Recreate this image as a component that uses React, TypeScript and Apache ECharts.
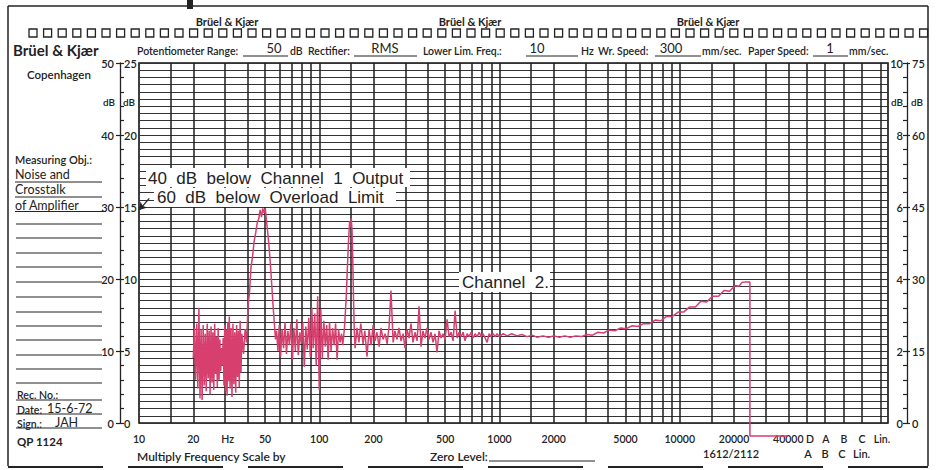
import React, { useEffect, useRef } from "react";
import * as echarts from "echarts";

// ---------- chart-paper data ----------
// vertical paper lines (Hz)
const gridFreqs = [15, 20, 30, 40, 50, 60, 70, 80, 90, 100, 150, 200, 300, 400, 500, 600, 700, 800, 900, 1000, 1500, 2000, 3000, 4000, 5000, 6000, 7000, 8000, 9000, 10000, 15000, 20000, 30000, 40000, 50400, 63900, 80900, 102600, 130000];

// frequency-axis tick labels
const xTickValues = [10, 20, 31, 50, 100, 200, 500, 1000, 2000, 5000, 10000, 20000, 40000, 52800, 64700, 81500, 102500, 132500];
const xTickLabels = ["10", "20", "Hz", "50", "100", "200", "500", "1000", "2000", "5000", "10000", "20000", "40000", "D", "A", "B", "C", "Lin."];

// ---------- Channel 2 trace (dB on the 0–25 dB scale) ----------
const lowNoiseFreq = [20, 20.3, 20.6, 20.9, 21.2, 21.5, 21.8, 22.1, 22.4, 22.7, 23, 23.3, 23.6, 23.9, 24.2, 24.5, 24.8, 25.1, 25.4, 25.7, 26, 26.3, 26.6, 26.9, 27.2, 27.5, 27.8, 28.1, 28.4, 28.7, 29, 29.3, 29.6, 29.9, 30.2, 30.5, 30.8, 31.1, 31.4, 31.7, 32, 32.4, 32.8, 33.2, 33.6, 34, 34.4, 34.8, 35.2, 35.6, 36, 36.4, 36.8, 37.2];
const lowNoiseDb = [4.5, 6.6, 3.0, 6.9, 2.4, 8.0, 1.7, 6.5, 1.6, 6.8, 2.6, 6.2, 2.2, 6.9, 3.1, 6.4, 2.0, 6.7, 2.8, 6.3, 2.3, 6.9, 3.4, 6.0, 2.5, 6.6, 3.0, 5.8, 3.6, 5.2, 4.0, 5.9, 2.6, 6.8, 2.2, 6.5, 1.9, 7.0, 2.9, 7.4, 2.4, 6.6, 1.8, 6.9, 2.7, 6.3, 2.1, 6.8, 3.2, 6.4, 2.5, 7.1, 3.5, 6.2];

const peak50Freq = [38, 38.8, 39.5, 40.3, 41, 41.8, 42.6, 43.5, 44.4, 45.3, 46.2, 47, 47.8, 48.6, 49.4, 50.2, 51, 51.8, 52.7, 53.6, 54.5, 55.4, 56.3, 57.2, 58];
const peak50Db = [4.8, 6.5, 5.6, 8.2, 9.0, 10.8, 11.5, 12.6, 13.2, 13.9, 14.2, 14.8, 14.3, 14.9, 14.6, 14.9, 14.0, 13.2, 12.2, 11.0, 9.6, 8.2, 7.0, 5.8, 6.4];

const humNoiseFreq = [59, 60, 61, 62.2, 63.4, 64.6, 65.8, 67, 68.3, 69.6, 71, 72.3, 73.7, 75.1, 76.5, 78, 79.5, 81, 82.6, 84.2, 85.8, 87.5, 89.2, 90.9, 92.6, 94.4, 96.2, 98, 100, 102, 104, 106, 108, 110, 112, 114, 116.3, 118.6, 120.9, 123.2, 125.6, 128, 130.5, 133];
const humNoiseDb = [5.0, 6.8, 4.6, 6.5, 5.2, 7.0, 4.8, 6.4, 5.4, 6.9, 4.4, 6.6, 5.0, 7.2, 4.7, 6.3, 5.5, 7.0, 3.9, 6.7, 5.1, 7.3, 4.6, 8.0, 5.2, 7.6, 4.0, 8.8, 2.3, 7.9, 4.5, 7.1, 5.3, 6.8, 4.4, 7.0, 5.0, 6.6, 5.4, 6.9, 4.4, 6.5, 5.6, 6.2];

const peak150Freq = [135, 138, 141, 143.5, 145.5, 147.5, 149, 150.5, 152, 153.5, 155, 156.5];
const peak150Db = [5.4, 6.6, 8.6, 11.0, 12.8, 14.0, 13.6, 14.2, 13.4, 11.2, 8.5, 6.4];

const midNoiseFreq = [158, 162, 166, 170, 175, 179, 184, 189, 194, 199, 204, 209, 215, 220, 226, 232, 238, 244, 250, 257, 263, 270, 277, 284, 292, 299, 307, 315, 323, 331, 340, 349, 358, 367, 376, 386, 396, 406, 417, 428, 439, 450, 462, 474, 486, 499, 512, 525, 539, 553, 567, 582, 597, 612, 628, 644, 661, 678, 696, 714, 732, 751, 771, 791, 811, 832, 854, 876, 899, 922, 946, 970, 995];
const midNoiseDb = [5.2, 6.6, 5.6, 6.9, 5.5, 6.4, 4.6, 6.5, 5.4, 6.8, 5.7, 6.3, 5.3, 6.6, 5.8, 6.2, 5.5, 6.7, 9.2, 5.6, 6.4, 5.8, 6.6, 5.7, 6.2, 5.2, 6.5, 5.9, 6.9, 5.6, 6.3, 5.7, 8.1, 5.3, 6.4, 5.9, 6.6, 5.8, 6.3, 5.6, 6.2, 4.9, 6.4, 5.9, 6.2, 5.8, 7.2, 6.0, 6.3, 5.7, 7.8, 5.9, 6.3, 6.0, 6.3, 5.7, 6.2, 6.0, 6.3, 5.9, 6.2, 6.0, 6.3, 6.0, 6.2, 5.9, 5.6, 6.2, 6.0, 6.2, 6.0, 6.2, 6.0];

const riseFreq = [1050, 1100, 1170, 1250, 1330, 1420, 1520, 1620, 1740, 1870, 2000, 2150, 2300, 2470, 2650, 2850, 3050, 3280, 3520, 3780, 4050, 4350, 4700, 5050, 5450, 5850, 6300, 6800, 7300, 7850, 8450, 9100, 9800, 10500, 11300, 12200, 13100, 14100, 15200, 16400, 17600, 18900, 20300, 21300, 22100, 23200, 24500];
const riseDb = [6.2, 6.05, 6.2, 6.05, 6.15, 6.0, 6.1, 5.95, 6.05, 5.95, 6.05, 5.95, 6.05, 5.95, 6.05, 6.0, 6.15, 6.1, 6.3, 6.25, 6.45, 6.4, 6.6, 6.55, 6.75, 6.7, 6.9, 6.9, 7.15, 7.1, 7.4, 7.4, 7.7, 7.7, 8.05, 8.05, 8.45, 8.4, 8.8, 8.8, 9.2, 9.15, 9.55, 9.5, 9.75, 9.8, 9.8];

const dropFreq = [24500, 40000];
const dropDb = [-0.9, -0.9];

// annotation arrow (Hz, dB)
const arrowFrom = [11.4, 15.6];
const arrowTo = [10.05, 14.8];

const traceSegments: [number[], number[]][] = [
  [lowNoiseFreq, lowNoiseDb],
  [peak50Freq, peak50Db],
  [humNoiseFreq, humNoiseDb],
  [peak150Freq, peak150Db],
  [midNoiseFreq, midNoiseDb],
  [riseFreq, riseDb],
  [dropFreq, dropDb],
];

const INK = "#232323";
const RED = "#d63f6e";
const FF = 'Lato, "Open Sans", sans-serif';
const AF = '"Liberation Sans", Arial, sans-serif';

function txt(x: number, y: number, text: string, font: string, align = "left", extra: any = {}) {
  return {
    type: "text",
    x,
    y,
    z: 60,
    silent: true,
    style: { text, font, fill: INK, textAlign: align, textVerticalAlign: "middle", ...extra },
  };
}
function ln(x1: number, y1: number, x2: number, y2: number, w = 1, extra: any = {}) {
  return { type: "line", z: 60, silent: true, shape: { x1, y1, x2, y2 }, style: { stroke: INK, lineWidth: w, ...extra } };
}

export default function App() {
  const ref = useRef<HTMLDivElement>(null);

  useEffect(() => {
    document.body.style.margin = "0";
    const chart = echarts.init(ref.current!, null, { renderer: "svg" });

    const traceData = traceSegments.flatMap(([f, d]) => f.map((v, i) => [v, d[i]]));

    const fmtX = (v: number) => {
      for (let i = 0; i < xTickValues.length; i++) {
        if (Math.abs(Math.log10(v) - Math.log10(xTickValues[i])) < 0.003) return xTickLabels[i];
      }
      return "";
    };

    const H = `600 10.5px ${FF}`;
    const graphics: any[] = [];
    // paper edges
    graphics.push(ln(8, 6, 928, 6, 1.5));
    graphics.push(ln(8, 6, 8, 466, 1.5));
    graphics.push(ln(928, 6, 928, 466, 1.5));
    graphics.push(ln(8, 467, 928, 467, 2, { lineDash: [95, 25] }));
    graphics.push({ type: "rect", z: 60, silent: true, shape: { x: 187, y: 0, width: 6, height: 9 }, style: { fill: INK } });
    // sprocket holes
    for (let i = 0; i < 62; i++) {
      graphics.push({
        type: "rect",
        z: 60,
        silent: true,
        shape: { x: 29 + i * 14.6, y: 29, width: 8, height: 8 },
        style: { fill: "none", stroke: INK, lineWidth: 1.3 },
      });
    }
    // top brand
    [227, 470, 708].forEach((cx) => graphics.push(txt(cx, 21, "Brüel & Kjær", `bold 11px ${FF}`, "center")));
    // header row
    graphics.push(txt(13, 50, "Brüel & Kjær", `bold 15px ${FF}`));
    graphics.push(txt(137, 51, "Potentiometer Range:", H));
    graphics.push(ln(243, 56, 288, 56, 1));
    graphics.push(txt(274, 48, "50", `13px ${FF}`, "center"));
    graphics.push(txt(290, 51, "dB", H));
    graphics.push(txt(308, 51, "Rectifier:", H));
    graphics.push(ln(354, 56, 417, 56, 1));
    graphics.push(txt(385, 48, "RMS", `13px ${FF}`, "center"));
    graphics.push(txt(423, 51, "Lower Lim. Freq.:", H));
    graphics.push(ln(526, 56, 578, 56, 1));
    graphics.push(txt(537, 48, "10", `13px ${FF}`, "center"));
    graphics.push(txt(581, 51, "Hz", H));
    graphics.push(txt(598, 51, "Wr. Speed:", H));
    graphics.push(ln(655, 56, 701, 56, 1));
    graphics.push(txt(671, 48, "300", `13px ${FF}`, "center"));
    graphics.push(txt(702, 51, "mm/sec.", H));
    graphics.push(txt(748, 51, "Paper Speed:", H));
    graphics.push(ln(813, 56, 848, 56, 1));
    graphics.push(txt(830, 48, "1", `13px ${FF}`, "center"));
    graphics.push(txt(849, 51, "mm/sec.", H));
    // left panel
    graphics.push(txt(27, 74, "Copenhagen", `600 11.5px ${FF}`));
    graphics.push(txt(15, 159, "Measuring Obj.:", `600 11px ${FF}`));
    graphics.push(txt(15, 174, "Noise and", `12.5px ${FF}`));
    graphics.push(txt(15, 189.5, "Crosstalk", `12.5px ${FF}`));
    graphics.push(txt(15, 205, "of Amplifier", `12.5px ${FF}`));
    [182, 197].forEach((y) => graphics.push(ln(15, y, 102, y, 1)));
    graphics.push(ln(15, 211.5, 106, 211.5, 1));
    [224, 238, 253, 267, 282, 297, 312, 326, 340, 355, 369, 383].forEach((y) => graphics.push(ln(16, y, 102, y, 1)));
    graphics.push(txt(17, 395, "Rec. No.:", `600 10.5px ${FF}`));
    graphics.push(txt(17, 410, "Date:", `600 10.5px ${FF}`));
    graphics.push(txt(47, 408, "15-6-72", `12.5px ${FF}`));
    graphics.push(txt(17, 424, "Sign.:", `600 10.5px ${FF}`));
    graphics.push(txt(55, 422, "JAH", `12.5px ${FF}`));
    [400, 414, 428].forEach((y) => graphics.push(ln(16, y, 102, y, 1)));
    graphics.push(txt(17, 441, "QP 1124", `bold 11.5px ${FF}`));
    // dB unit labels on the scales
    graphics.push(txt(115, 102, "dB", `600 10px ${FF}`, "right"));
    graphics.push(txt(123, 102, "dB", `600 10px ${FF}`, "left"));
    graphics.push(txt(903, 102, "dB", `600 10px ${FF}`, "right"));
    graphics.push(txt(911, 102, "dB", `600 10px ${FF}`, "left"));
    // bottom form texts
    graphics.push(txt(137, 456, "Multiply Frequency Scale by", `600 12px ${FF}`));
    graphics.push(txt(430, 456, "Zero Level:", `600 12px ${FF}`));
    graphics.push(ln(489, 461, 595, 461, 1));
    graphics.push(txt(703, 453, "1612/2112", `600 11px ${FF}`));
    graphics.push(txt(808, 453, "A", `600 11px ${FF}`, "center"));
    graphics.push(txt(825, 453, "B", `600 11px ${FF}`, "center"));
    graphics.push(txt(842, 453, "C", `600 11px ${FF}`, "center"));
    graphics.push(txt(853, 453, "Lin.", `600 11px ${FF}`));
    // annotations with white backing
    graphics.push({ type: "rect", z: 55, silent: true, shape: { x: 146, y: 168, width: 264, height: 19 }, style: { fill: "#fff" } });
    graphics.push({ type: "rect", z: 55, silent: true, shape: { x: 154, y: 188, width: 242, height: 19 }, style: { fill: "#fff" } });
    graphics.push(txt(148, 178, "40  dB  below  Channel  1  Output", `17px ${AF}`));
    graphics.push(txt(157, 197, "60  dB  below  Overload  Limit", `17px ${AF}`));
    graphics.push({ type: "rect", z: 55, silent: true, shape: { x: 459, y: 272, width: 91, height: 20 }, style: { fill: "#fff" } });
    graphics.push(txt(462, 282, "Channel  2.", `17px ${AF}`));

    const labelStyle = { color: INK, fontSize: 11, fontWeight: 600, fontFamily: FF };

    chart.setOption({
      animation: false,
      backgroundColor: "#fff",
      grid: { left: 139, right: 50, top: 63, bottom: 47, show: true, borderColor: "#111", borderWidth: 1.6, outerBoundsMode: "none" },
      xAxis: {
        type: "log",
        logBase: 10,
        min: 10,
        max: 143000,
        axisLine: { show: false },
        axisTick: { show: false },
        splitLine: { show: false },
        minorSplitLine: { show: false },
        axisLabel: {
          customValues: xTickValues,
          formatter: fmtX,
          color: INK,
          fontSize: 10.5,
          fontWeight: 600,
          fontFamily: FF,
          margin: 10,
          hideOverlap: false,
        },
      },
      yAxis: [
        {
          type: "value", min: 0, max: 25, interval: 0.5, position: "left",
          axisLine: { show: false }, axisTick: { show: false }, axisLabel: { show: false },
          splitLine: { show: true, lineStyle: { color: "#333", width: 1.1 } },
        },
        {
          type: "value", min: 0, max: 25, interval: 1, position: "left", offset: 19,
          axisLine: { show: true, lineStyle: { color: INK, width: 1.3 } },
          axisTick: { show: true, inside: true, length: 4, lineStyle: { color: INK, width: 1.2 } },
          axisLabel: { inside: true, margin: 4, formatter: (v: number) => (Math.round(v) % 5 === 0 ? String(Math.round(v)) : ""), ...labelStyle },
          splitLine: { show: false },
        },
        {
          type: "value", min: 0, max: 50, interval: 10, position: "left", offset: 19,
          axisLine: { show: false },
          axisTick: { show: true, length: 4, lineStyle: { color: INK, width: 1.2 } },
          axisLabel: { margin: 6, ...labelStyle },
          splitLine: { show: false },
        },
        {
          type: "value", min: 0, max: 10, interval: 0.4, position: "right", offset: 19,
          axisLine: { show: true, lineStyle: { color: INK, width: 1.3 } },
          axisTick: { show: true, inside: true, length: 4, lineStyle: { color: INK, width: 1.2 } },
          axisLabel: {
            inside: true, margin: 4, ...labelStyle,
            formatter: (v: number) => {
              const r = Math.round(v);
              return Math.abs(v - r) < 1e-6 && r % 2 === 0 ? String(r) : "";
            },
          },
          splitLine: { show: false },
        },
        {
          type: "value", min: 0, max: 75, interval: 15, position: "right", offset: 19,
          axisLine: { show: false },
          axisTick: { show: true, length: 3, lineStyle: { color: INK, width: 1.2 } },
          axisLabel: { margin: 5, ...labelStyle },
          splitLine: { show: false },
        },
      ],
      series: [
        {
          name: "paper",
          type: "line",
          data: [],
          silent: true,
          z: 1,
          markLine: {
            silent: true,
            symbol: "none",
            label: { show: false },
            lineStyle: { color: "#1e1e1e", width: 1.5, type: "solid" },
            emphasis: { disabled: true },
            data: gridFreqs.map((f) => ({ xAxis: f })),
          },
        },
        {
          name: "Channel 2",
          type: "line",
          data: traceData,
          showSymbol: false,
          clip: false,
          z: 5,
          lineStyle: { color: RED, width: 1.5 },
          itemStyle: { color: RED },
        },
        {
          name: "arrow",
          type: "line",
          data: [],
          silent: true,
          z: 6,
          markLine: {
            silent: true,
            symbol: ["none", "arrow"],
            symbolSize: 7,
            label: { show: false },
            lineStyle: { color: INK, width: 1.3, type: "solid" },
            data: [[{ coord: arrowFrom }, { coord: arrowTo }]],
          },
        },
      ],
      graphic: { elements: graphics },
    });

    return () => chart.dispose();
  }, []);

  return <div ref={ref} style={{ width: 938, height: 470 }} />;
}
